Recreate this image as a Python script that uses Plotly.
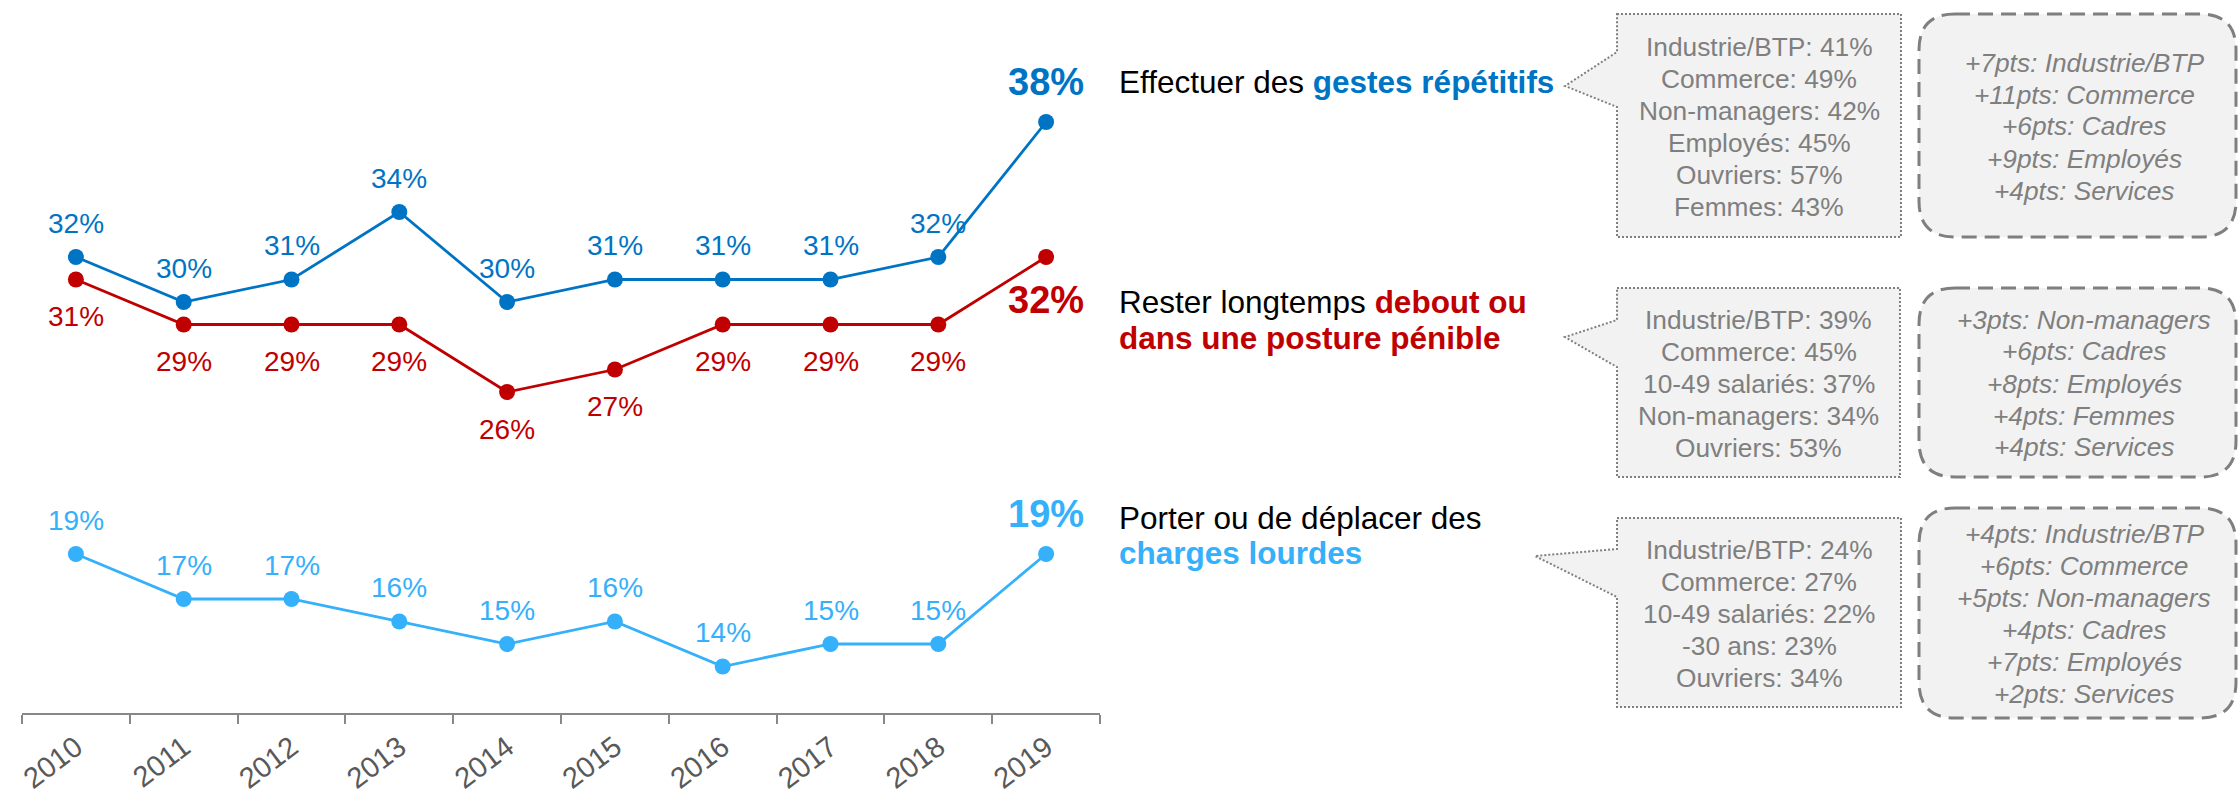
import plotly.graph_objects as go

# --- data -------------------------------------------------------------
years = ["2010", "2011", "2012", "2013", "2014", "2015", "2016", "2017", "2018", "2019"]
gestes = [32, 30, 31, 34, 30, 31, 31, 31, 32, 38]
debout = [31, 29, 29, 29, 26, 27, 29, 29, 29, 32]
charges = [19, 17, 17, 16, 15, 16, 14, 15, 15, 19]

detail_gestes = ["Industrie/BTP: 41%", "Commerce: 49%", "Non-managers: 42%",
                 "Employés: 45%", "Ouvriers: 57%", "Femmes: 43%"]
detail_debout = ["Industrie/BTP: 39%", "Commerce: 45%", "10-49 salariés: 37%",
                 "Non-managers: 34%", "Ouvriers: 53%"]
detail_charges = ["Industrie/BTP: 24%", "Commerce: 27%", "10-49 salariés: 22%",
                  "-30 ans: 23%", "Ouvriers: 34%"]

evol_gestes = ["+7pts: Industrie/BTP", "+11pts: Commerce", "+6pts: Cadres",
               "+9pts: Employés", "+4pts: Services"]
evol_debout = ["+3pts: Non-managers", "+6pts: Cadres", "+8pts: Employés",
               "+4pts: Femmes", "+4pts: Services"]
evol_charges = ["+4pts: Industrie/BTP", "+6pts: Commerce", "+5pts: Non-managers",
                "+4pts: Cadres", "+7pts: Employés", "+2pts: Services"]

BLUE = "#0074C4"
RED = "#C00000"
LIGHT = "#35B0FA"
GREY = "#7F7F7F"
FONT = "Arial, Liberation Sans, sans-serif"

W, H = 2239, 794
L, R, T, B = 22, 1100, 20, 713  # plot area in pixels
UNIT = 22.5  # pixels per percentage point
lo = 32 - (B - 257) / UNIT
hi = lo + (B - T) / UNIT
LINE_H = 32  # line spacing in the side boxes


def px(x):
    return (x - L) / (R - L)


def py(y):
    return (B - y) / (B - T)


def path(points, close=True):
    s = "M " + " L ".join(f"{px(x):.5f},{py(y):.5f}" for x, y in points)
    return s + (" Z" if close else "")


def bubble(left, right, top, bottom, base_top, base_bot, tip):
    return path([(left, top), (right, top), (right, bottom), (left, bottom),
                 (left, base_bot), tip, (left, base_top)])


def rounded(left, right, top, bottom, r):
    c = lambda x, y: f"{px(x):.5f},{py(y):.5f}"
    return (f"M {c(left + r, top)} L {c(right - r, top)} Q {c(right, top)} {c(right, top + r)}"
            f" L {c(right, bottom - r)} Q {c(right, bottom)} {c(right - r, bottom)}"
            f" L {c(left + r, bottom)} Q {c(left, bottom)} {c(left, bottom - r)}"
            f" L {c(left, top + r)} Q {c(left, top)} {c(left + r, top)} Z")


fig = go.Figure()

for vals, color, axis in [(gestes, BLUE, "y"), (debout, RED, "y"), (charges, LIGHT, "y2")]:
    fig.add_trace(go.Scatter(
        x=years, y=vals, mode="lines+markers", yaxis=axis,
        line=dict(color=color, width=2.8),
        marker=dict(color=color, size=16),
        hoverinfo="skip", showlegend=False,
    ))

annotations = []
for vals, color, ref, shift, bshift in [(gestes, BLUE, "y", 34, 40),
                                        (debout, RED, "y", -37, -43),
                                        (charges, LIGHT, "y2", 34, 40)]:
    for i, v in enumerate(vals):
        last = i == len(vals) - 1
        annotations.append(dict(
            x=i, y=v, xref="x", yref=ref, showarrow=False,
            xanchor="center", yanchor="middle",
            text=f"<b>{v}%</b>" if last else f"{v}%",
            yshift=bshift if last else shift,
            font=dict(family=FONT, size=38 if last else 28, color=color),
        ))

# series titles, one annotation per line
titles = [
    ["Effectuer des <b><span style='color:%s'>gestes répétitifs</span></b>" % BLUE],
    ["Rester longtemps <b><span style='color:%s'>debout ou</span></b>" % RED,
     "<b><span style='color:%s'>dans une posture pénible</span></b>" % RED],
    ["Porter ou de déplacer des",
     "<b><span style='color:%s'>charges lourdes</span></b>" % LIGHT],
]
title_y = [[82], [302, 338], [518, 553]]
for lines, ys in zip(titles, title_y):
    for text, yc in zip(lines, ys):
        annotations.append(dict(
            x=px(1117), y=py(yc), xref="paper", yref="paper", xanchor="left", yanchor="middle",
            align="left", showarrow=False, text=text,
            font=dict(family=FONT, size=31.5, color="#000000"),
        ))


def add_lines(lines, xc, yc, italic=False):
    n = len(lines)
    for k, t in enumerate(lines):
        y = yc + (k - (n - 1) / 2) * LINE_H
        annotations.append(dict(
            x=px(xc), y=py(y), xref="paper", yref="paper",
            xanchor="center", yanchor="middle", showarrow=False,
            text=f"<i>{t}</i>" if italic else t,
            font=dict(family=FONT, size=26.3, color=GREY),
        ))


shapes = []
boxes = [
    (detail_gestes, evol_gestes, (1617, 1901, 14, 237, 52, 107, (1565, 86)), (14, 237)),
    (detail_debout, evol_debout, (1617, 1900, 288, 477, 320, 367, (1565, 337)), (288, 477)),
    (detail_charges, evol_charges, (1617, 1901, 518, 707, 549, 597, (1535, 556)), (508, 718)),
]
for detail, evol, b, (dt, db) in boxes:
    shapes.append(dict(type="path", xref="paper", yref="paper", path=bubble(*b),
                       fillcolor="#F2F2F2", line=dict(color=GREY, width=2, dash="2px,2px")))
    shapes.append(dict(type="path", xref="paper", yref="paper",
                       path=rounded(1919, 2236, dt, db, 36),
                       fillcolor="#F2F2F2", line=dict(color=GREY, width=3, dash="15px,8px")))
    add_lines(detail, (b[0] + b[1]) / 2, (b[2] + b[3]) / 2 + 1.5)
    add_lines(evol, 2084, (dt + db) / 2 + 1, italic=True)

fig.update_layout(
    width=W, height=H,
    margin=dict(l=L, r=W - R, t=T, b=H - B, pad=0, autoexpand=False),
    paper_bgcolor="white", plot_bgcolor="white",
    annotations=annotations, shapes=shapes,
    xaxis=dict(type="category", range=[-0.5, 9.5], tickson="boundaries",
               showline=True, linecolor="#888888", linewidth=2,
               ticks="outside", ticklen=9, tickwidth=2, tickcolor="#888888",
               tickangle=-37, ticklabelstandoff=4, showgrid=False, zeroline=False,
               automargin=False,
               tickfont=dict(family=FONT, size=29, color="#595959")),
    yaxis=dict(range=[lo, hi], visible=False, fixedrange=True, automargin=False),
    yaxis2=dict(range=[lo + 0.2, hi + 0.2], visible=False, overlaying="y"),
)

fig.write_html("out.html", config={"displayModeBar": False},
               post_script="document.body.style.margin='0px';")
